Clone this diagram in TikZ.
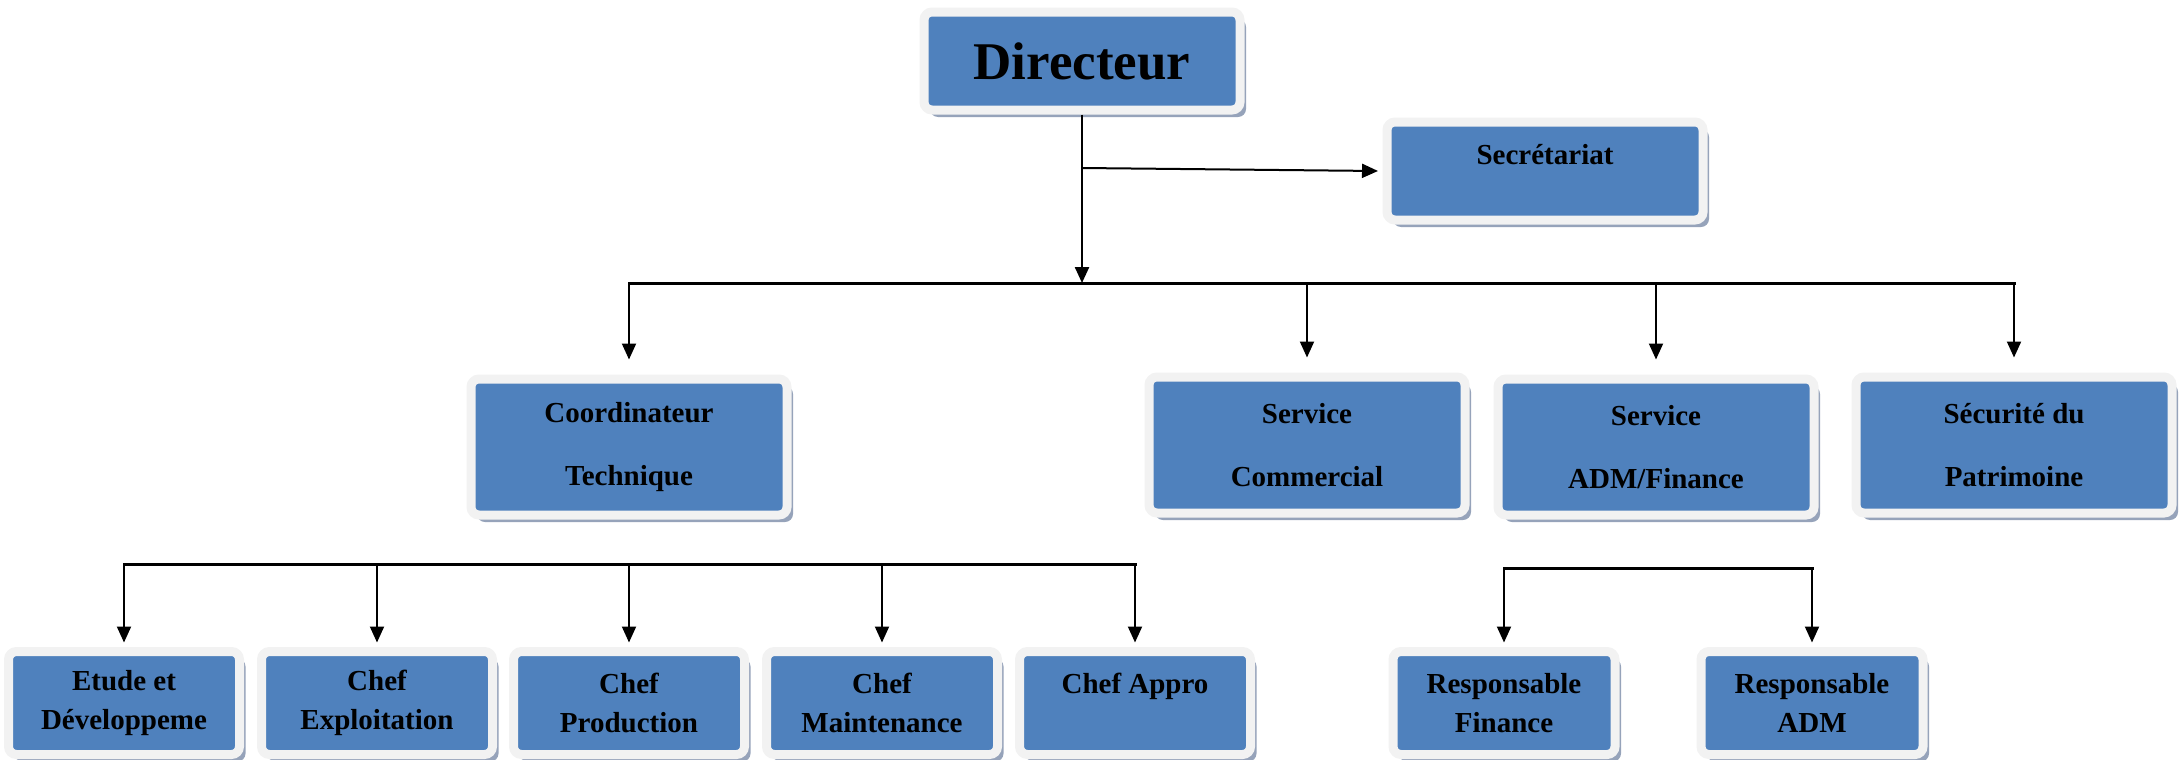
\documentclass[tikz,border=0pt]{standalone}
\usepackage{fontspec}
\setmainfont{Liberation Serif}
\usetikzlibrary{arrows.meta,shadows}
\definecolor{boxblue}{RGB}{79,129,189}
\definecolor{boxrim}{RGB}{242,242,242}
\definecolor{shadowblue}{RGB}{150,163,186}
\begin{document}
\begin{tikzpicture}[x=0.5pt, y=-0.5pt,
  box/.style={draw=boxrim, line width=4.5pt, fill=boxblue, rounded corners=4pt,
    drop shadow={shadow xshift=3pt, shadow yshift=-3.5pt, fill=shadowblue, opacity=1},
    inner sep=0pt, align=center, font=\bfseries\fontsize{14.5}{31.5}\selectfont},
  headbox/.style={box, minimum width=158pt, minimum height=49pt},
  topbox/.style={box, minimum width=158pt, minimum height=68pt},
  lowbox/.style={box, minimum width=115.5pt, minimum height=51.5pt, font=\bfseries\fontsize{14.5}{19.5}\selectfont},
  arr/.style={-{Triangle[length=8pt,width=7pt]}, line width=1pt},
  bus/.style={line width=1.5pt, line cap=rect}]
\useasboundingbox (0,0) rectangle (2179,760);

\node[headbox, font=\bfseries\fontsize{26.5}{30}\selectfont] (dir) at (1082,61) {Directeur};
\node[headbox, font=\bfseries\fontsize{14.5}{17}\selectfont] (sec) at (1545,171) {Secrétariat\\\mbox{}};

\node[topbox] (coord) at (629,447) {Coordinateur\\Technique};
\node[topbox] (comm) at (1307,445) {Service\\Commercial};
\node[topbox] (admfin) at (1656,447) {Service\\ADM/Finance};
\node[topbox] (secu) at (2014,445) {Sécurité du\\Patrimoine};

\node[lowbox] (etude) at (124,703) {Etude et\\Développeme};
\node[lowbox] (exploit) at (377,703) {Chef\\Exploitation};
\node[lowbox] (prod) at (629,703) {Chef\\Production};
\node[lowbox] (maint) at (882,703) {Chef\\Maintenance};
\node[lowbox] (appro) at (1135,703) {Chef Appro\\\mbox{}};
\node[lowbox, minimum width=111pt] (respfin) at (1504,703) {Responsable\\Finance};
\node[lowbox, minimum width=111pt] (respadm) at (1812,703) {Responsable\\ADM};

\coordinate (fork) at (1082,283);
\coordinate (secfork) at (1082,168);
\coordinate (techbus) at (629,564);
\coordinate (admbus) at (1656,568);

\draw[arr, line width=1.2pt] (dir.south) -- (fork);
\draw[arr] (secfork) -- ([xshift=-2.25pt]sec.west);

\draw[bus] (coord.north |- fork) -- (secu.north |- fork);
\foreach \n in {coord,comm,admfin,secu}
  \draw[arr] (\n.north |- fork) -- ([yshift=7.5pt]\n.north);

\draw[bus] (etude.north |- techbus) -- (appro.north |- techbus);
\foreach \n in {etude,exploit,prod,maint,appro}
  \draw[arr] (\n.north |- techbus) -- ([yshift=2.25pt]\n.north);

\draw[bus] (respfin.north |- admbus) -- (respadm.north |- admbus);
\foreach \n in {respfin,respadm}
  \draw[arr] (\n.north |- admbus) -- ([yshift=2.25pt]\n.north);
\end{tikzpicture}
\end{document}
